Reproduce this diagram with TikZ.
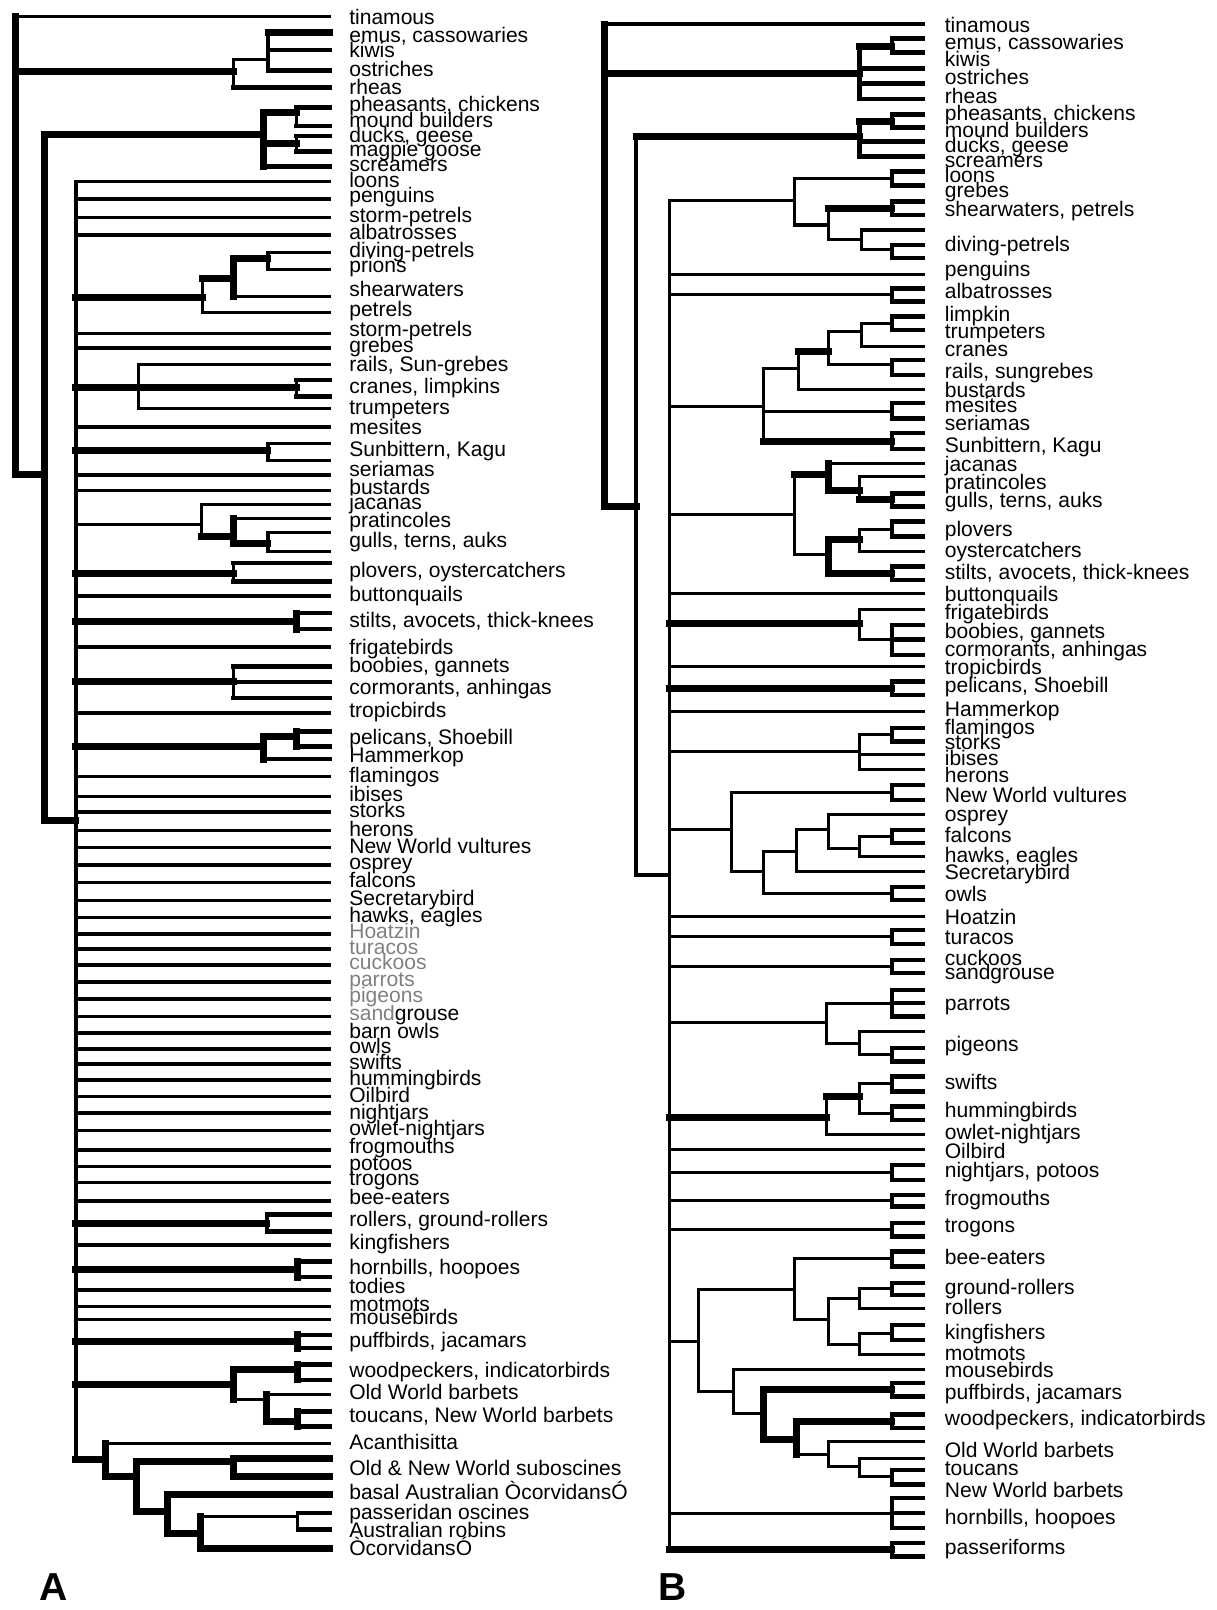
\documentclass[tikz,border=0pt]{standalone}
\usepackage{fontspec}
\setmainfont{Liberation Sans}
\newcommand{\trH}[4][thn]{\draw[#1] (#2,#4) -- (#3,#4);}
\newcommand{\trV}[4][thn]{\draw[#1] (#2,#3) -- (#2,#4);}
\newcommand{\trF}[2]{\draw[thm] (899,#1) -- (868.5,#1) -- (868.5,#2) -- (899,#2);}
\newcommand{\trFF}[3]{\draw[thm] (899,#1) -- (868.5,#1) -- (868.5,#3) -- (899,#3) (868.5,#2) -- (899,#2);}
\newcommand{\trL}[5][]{\node[lbl,#1] (#2) at (#3,#4) {#5};}
\begin{document}
\begin{tikzpicture}[x=1pt,y=-1pt,line cap=rect,line join=miter,
  thn/.style={line width=3.0pt},
  tnp/.style={line width=3.4pt},
  med/.style={line width=3.6pt},
  thm/.style={line width=4.4pt},
  thk/.style={line width=6.8pt},
  lbl/.style={anchor=base west,inner sep=0pt,yshift=-6pt,font=\fontsize{20.5}{22}\selectfont},
  gry/.style={text=black!50},
  big/.style={inner sep=0pt,font=\bfseries\fontsize{38}{40}\selectfont}]
\useasboundingbox (0,0) rectangle (1185,1568);
% ================= TREE A =================
\trV[thk]{15}{16}{462}
\trH[thn]{15}{321}{16}
% ratites
\trH[thk]{15}{227}{70}
\trV[thn]{227}{58}{85}
\trH[thn]{227}{261}{58}
\trV[thn]{261}{31.5}{69}
\trH[thk]{261}{321}{31.5}
\trH[thm]{261}{321}{48.7}
\trH[thm]{261}{321}{68.8}
\trH[thm]{227}{321}{85}
% neognaths
\trH[thk]{15}{43}{462}
\trV[thk]{43}{131}{799}
\trH[thk]{43}{257}{131}
\trV[thk]{257}{110}{162}
\trH[thk]{257}{289}{110}
\trV[thn]{289}{104.5}{122.7}
\trH[thm]{289}{321}{104.5}
\trH[thm]{289}{321}{122.7}
\trH[thk]{257}{289}{140}
\trV[thn]{289}{132.4}{147.7}
\trH[thm]{289}{321}{132.4}
\trH[thm]{289}{321}{147.7}
\trH[thm]{257}{321}{162}
% neoaves
\trH[thk]{43}{74}{799}
\trV[med]{74}{177}{1421}
\foreach \y in {177,193.8,211.6,228.8,324.6,339,416,462.5,477.8,580.3,630.3,694.6,756.3,775.7,791,808.9,825.4,842.3,859.5,877,893.6,909.8,924.1,939.7,956.5,972.8,990,1006.2,1021.8,1036.4,1051.6,1067.9,1084.1,1101,1119.8,1136,1151.6,1169.5,1212.3,1256.1,1272.4,1285.3}
  {\draw[tnp] (74,\y) -- (321,\y);}
% procellariids
\trH[thk]{74}{197}{290}
\trV[thn]{197}{271}{304.5}
\trH[thk]{197}{227}{271}
\trV[thk]{227}{251.5}{289}
\trH[thk]{227}{261}{251.5}
\trV[thn]{261}{245.7}{262.2}
\trH[thn]{261}{321}{245.7}
\trH[thn]{261}{321}{262.2}
\trH[thn]{227}{321}{289}
\trH[thn]{197}{321}{304.5}
% cranes
\trH[thk]{74}{135}{377}
\trV[thn]{135}{355.4}{398}
\trH[thn]{135}{321}{355.4}
\trH[thn]{135}{321}{398}
\trH[thk]{135}{289}{377}
\trV[thn]{289}{370}{386}
\trH[thm]{289}{321}{370}
\trH[thm]{289}{321}{386}
% sunbittern
\trH[thk]{74}{261}{439}
\trV[thn]{261}{431.7}{448.6}
\trH[thn]{261}{321}{431.7}
\trH[thn]{261}{321}{448.6}
% jacanas
\trH[thn]{74}{196}{511}
\trV[thn]{196}{491.7}{522.6}
\trH[thn]{196}{321}{491.7}
\trH[thk]{196}{227}{522.6}
\trV[thk]{227}{504.7}{529.1}
\trH[thn]{227}{321}{504.7}
\trH[thk]{227}{261}{529.1}
\trV[thn]{261}{518.7}{537.2}
\trH[thn]{261}{321}{518.7}
\trH[thn]{261}{321}{537.2}
% plovers
\trH[thk]{74}{227}{558.3}
\trV[thn]{227}{548.5}{566.4}
\trH[thm]{227}{321}{548.5}
\trH[thm]{227}{321}{566.4}
% stilts
\trH[thk]{74}{289}{605.3}
\trV[thk]{289}{597.2}{612.8}
\trH[thm]{289}{321}{597.2}
\trH[thm]{289}{321}{612.8}
% boobies
\trH[thk]{74}{227}{664}
\trV[thn]{227}{649.2}{680}
\trH[thm]{227}{321}{649.2}
\trH[thm]{227}{321}{664}
\trH[thm]{227}{321}{680}
% pelicans
\trH[thk]{74}{257}{727}
\trV[thk]{257}{717.3}{739.4}
\trH[thk]{257}{289}{717.3}
\trV[thk]{289}{712.4}{727}
\trH[thm]{289}{321}{712.4}
\trH[thm]{289}{321}{727}
\trH[thm]{257}{321}{739.4}
% rollers
\trH[thk]{74}{260}{1191.2}
\trV[thn]{260}{1183}{1199.3}
\trH[thm]{260}{321}{1183}
\trH[thm]{260}{321}{1199.3}
% hornbills
\trH[thk]{74}{290}{1236.7}
\trV[thk]{290}{1228.5}{1243.8}
\trH[thm]{290}{321}{1228.5}
\trH[thm]{290}{321}{1243.8}
% puffbirds
\trH[thk]{74}{290}{1306.4}
\trV[thk]{290}{1300}{1313}
\trH[thm]{290}{321}{1300}
\trH[thm]{290}{321}{1313}
% woodpeckers
\trH[thk]{74}{227}{1348.6}
\trV[thk]{227}{1334}{1363}
\trH[thk]{227}{290}{1334}
\trV[thk]{290}{1329}{1343.8}
\trH[thm]{290}{321}{1329}
\trH[thm]{290}{321}{1343.8}
\trH[thn]{227}{260}{1363}
\trV[thk]{260}{1358.4}{1384.3}
\trH[thn]{260}{321}{1358.4}
\trH[thk]{260}{290}{1384.3}
\trV[thk]{290}{1374.6}{1389.2}
\trH[thm]{290}{321}{1374.6}
\trH[thm]{290}{321}{1389.2}
% passerines
\trH[thk]{74}{103}{1421}
\trV[thk]{103}{1405.4}{1437.9}
\trH[thn]{103}{321}{1405.4}
\trH[thk]{103}{133}{1437.9}
\trV[thk]{133}{1423.3}{1472}
\trH[thk]{133}{227}{1423.3}
\trV[thk]{227}{1420}{1437.9}
\trH[thk]{227}{321}{1420}
\trH[thk]{227}{321}{1437.9}
\trH[thk]{133}{163}{1472}
\trV[thk]{163}{1455.7}{1493}
\trH[thk]{163}{321}{1455.7}
\trH[thk]{163}{195}{1493}
\trV[thk]{195}{1477}{1507.7}
\trH[thn]{195}{290}{1477}
\trV[thn]{290}{1473.6}{1489.8}
\trH[thm]{290}{321}{1473.6}
\trH[thm]{290}{321}{1489.8}
\trH[thk]{195}{321}{1507.7}
% ================= TREE B =================
\trV[thk]{589}{23.4}{493}
\trH[thn]{589}{899}{23.4}
\trH[thk]{589}{837}{71.4}
\trV[thm]{837}{45.4}{96.4}
\trH[thk]{837}{868.5}{45.4}
\trF{37.3}{51.3}
\trH[thm]{837}{899}{66.5}
\trH[thm]{837}{899}{81.1}
\trH[thm]{837}{899}{96.4}
\trH[thk]{589}{619.5}{493}
\trV[med]{619.5}{133}{852}
\trH[thk]{619.5}{837}{133}
\trV[thm]{837}{118.5}{152.5}
\trH[thk]{837}{868.5}{118.5}
\trF{111.3}{124.3}
\trH[thm]{837}{899}{137.9}
\trH[thm]{837}{899}{152.5}
\trH[med]{619.5}{652}{852}
\trV[med]{652}{195.7}{1509.3}
% waterbirds
\trH[thn]{652}{774}{195.7}
\trV[thn]{774}{173.6}{219.1}
\trH[thn]{774}{868.5}{173.6}
\trF{167.2}{180.8}
\trH[thn]{774}{806.6}{219.1}
\trV[thn]{806.6}{202.9}{233}
\trH[thk]{806.6}{868.5}{202.9}
\trF{196.4}{209.3}
\trH[thn]{806.6}{839}{233}
\trV[thn]{839}{224}{243.4}
\trH[thn]{839}{899}{224}
\trH[thn]{839}{868.5}{243.4}
\trF{238.6}{251.5}
% single / forks off neoaves
\foreach \y in {267.1,578.4,649.2,693,892.6,1119.8}
  {\draw[thn] (652,\y) -- (899,\y);}
\foreach \y in {287,912.1,941.3,1141.7,1169.3,1197.7,1473.6}
  {\draw[thn] (652,\y) -- (868.5,\y);}
\trF{280.8}{293.7}
\trF{905.6}{919.2}
\trF{934.8}{947.8}
\trF{1134.4}{1149}
\trF{1163.6}{1175}
\trF{1191.2}{1204.2}
\trFF{1459}{1473.6}{1488.2}
\trH[thk]{652}{868.5}{670.2}
\trF{663.8}{676.7}
\trH[thk]{652}{868.5}{1509.3}
\trF{1502.8}{1515.8}
% gruiformes
\trH[thn]{652}{743.3}{395.5}
\trV[thn]{743.3}{358.6}{429.7}
\trH[thn]{743.3}{777.4}{358.6}
\trV[thn]{777.4}{342.4}{379.1}
\trH[thk]{777.4}{806.6}{342.4}
\trV[thn]{806.6}{322.9}{355.4}
\trH[thn]{806.6}{839}{322.9}
\trV[thn]{839}{314.8}{337.6}
\trH[thn]{839}{868.5}{314.8}
\trF{308.3}{321.3}
\trH[thn]{839}{899}{337.6}
\trH[thn]{806.6}{868.5}{355.4}
\trF{350.5}{365.1}
\trH[thn]{777.4}{899}{379.1}
\trH[thn]{743.3}{868.5}{400.5}
\trF{392.7}{407.4}
\trH[thk]{743.3}{868.5}{429.7}
\trF{421.9}{437.5}
% charadriiformes
\trH[thn]{652}{774}{501.5}
\trV[thn]{774}{462.5}{540.4}
\trH[thk]{774}{806.6}{462.5}
\trV[thk]{806.6}{451.2}{478}
\trH[thn]{806.6}{899}{451.2}
\trH[thk]{806.6}{837.4}{478}
\trV[thn]{837.4}{464.2}{486.9}
\trH[thn]{837.4}{899}{464.2}
\trH[thk]{837.4}{868.5}{486.9}
\trF{480.4}{493.4}
\trH[thn]{774}{806.6}{540.4}
\trV[thk]{806.6}{525.8}{558.3}
\trH[thk]{806.6}{837.4}{525.8}
\trV[thn]{837.4}{516.1}{537.2}
\trH[thn]{837.4}{868.5}{516.1}
\trF{508}{522.6}
\trH[thn]{837.4}{899}{537.2}
\trH[thk]{806.6}{868.5}{558.3}
\trF{551.8}{564.8}
% frigatebirds, boobies
\trH[thk]{652}{837.4}{607.6}
\trV[thn]{837.4}{594}{623}
\trH[thn]{837.4}{899}{594}
\trH[thn]{837.4}{868.5}{623}
\trFF{608.6}{623}{637.8}
% flamingos
\trH[thn]{652}{837.4}{731.9}
\trV[thn]{837.4}{715.7}{749.8}
\trH[thn]{837.4}{868.5}{715.7}
\trF{709.2}{722.2}
\trH[thn]{837.4}{899}{735.2}
\trH[thn]{837.4}{899}{749.8}
% raptors
\trH[thn]{652}{712.4}{808.2}
\trV[thn]{712.4}{771.7}{848.8}
\trH[thn]{712.4}{868.5}{771.7}
\trF{764.4}{779}
\trH[thn]{712.4}{743.3}{848.8}
\trV[thn]{743.3}{829.3}{869.9}
\trH[thn]{743.3}{775.7}{829.3}
\trV[thn]{775.7}{808.2}{848.8}
\trH[thn]{775.7}{806.6}{808.2}
\trV[thn]{806.6}{793.6}{826}
\trH[thn]{806.6}{899}{793.6}
\trH[thn]{806.6}{837.4}{826}
\trV[thn]{837.4}{814.7}{834.2}
\trH[thn]{837.4}{868.5}{814.7}
\trF{808.2}{821.2}
\trH[thn]{837.4}{899}{834.2}
\trH[thn]{775.7}{899}{848.8}
\trH[thn]{743.3}{868.5}{869.9}
\trF{864}{876.4}
% parrots, pigeons
\trH[thn]{652}{805}{995.8}
\trV[thn]{805}{977}{1016}
\trH[thn]{805}{868.5}{977}
\trFF{964}{977}{990}
\trH[thn]{805}{837.4}{1016}
\trV[thn]{837.4}{1004.6}{1027.3}
\trH[thn]{837.4}{899}{1004.6}
\trH[thn]{837.4}{868.5}{1027.3}
\trF{1020.8}{1033.8}
% swifts
\trH[thk]{652}{805}{1088}
\trV[thn]{805}{1067.9}{1105.2}
\trH[thk]{805}{837.4}{1067.9}
\trV[thn]{837.4}{1054.9}{1084.1}
\trH[thn]{837.4}{868.5}{1054.9}
\trF{1048.4}{1063}
\trH[thn]{837.4}{868.5}{1084.1}
\trF{1077.6}{1090.6}
\trH[thn]{805}{899}{1105.2}
% coraciiformes / piciformes
\trH[thn]{652}{680}{1306.4}
\trV[thn]{680}{1256.1}{1355.1}
\trH[thn]{680}{774.1}{1256.1}
\trV[thn]{774.1}{1225.3}{1285.3}
\trH[thn]{774.1}{868.5}{1225.3}
\trF{1218.8}{1233.4}
\trH[thn]{774.1}{806.6}{1285.3}
\trV[thn]{806.6}{1264.3}{1309.7}
\trH[thn]{806.6}{837.4}{1264.3}
\trV[thn]{837.4}{1254.5}{1274}
\trH[thn]{837.4}{868.5}{1254.5}
\trF{1249.6}{1261}
\trH[thn]{837.4}{899}{1274}
\trH[thn]{806.6}{837.4}{1309.7}
\trV[thn]{837.4}{1298.3}{1319.4}
\trH[thn]{837.4}{868.5}{1298.3}
\trF{1290.2}{1304.8}
\trH[thn]{837.4}{899}{1319.4}
\trH[thn]{680}{714}{1355.1}
\trV[thn]{714}{1334}{1376.2}
\trH[thn]{714}{899}{1334}
\trH[thn]{714}{743.3}{1376.2}
\trV[thk]{743.3}{1353.5}{1402.2}
\trH[thk]{743.3}{868.5}{1353.5}
\trF{1347}{1360}
\trH[thk]{743.3}{775.7}{1402.2}
\trV[thk]{775.7}{1384.3}{1416.8}
\trH[thk]{775.7}{868.5}{1384.3}
\trF{1377.8}{1390.8}
\trH[thn]{775.7}{806.6}{1416.8}
\trV[thn]{806.6}{1403.8}{1428.2}
\trH[thn]{806.6}{899}{1403.8}
\trH[thn]{806.6}{837.4}{1428.2}
\trV[thn]{837.4}{1420}{1437.9}
\trH[thn]{837.4}{899}{1420}
\trH[thn]{837.4}{868.5}{1437.9}
\trF{1431.4}{1446}
% ================= LABELS A =================
\trL{a01}{340}{17.9}{tinamous}
\trL{a02}{340}{35.7}{emus, cassowaries}
\trL{a03}{340}{50.3}{kiwis}
\trL{a04}{340}{68.2}{ostriches}
\trL{a05}{340}{86}{rheas}
\trL{a06}{340}{102.2}{pheasants, chickens}
\trL{a07}{340}{118.5}{mound builders}
\trL{a08}{340}{133}{ducks, geese}
\trL{a09}{340}{146}{magpie goose}
\trL{a10}{340}{160.7}{screamers}
\trL{a11}{340}{176.9}{loons}
\trL{a12}{340}{191.5}{penguins}
\trL{a13}{340}{211}{storm-petrels}
\trL{a14}{340}{227.2}{albatrosses}
\trL{a15}{340}{245}{diving-petrels}
\trL{a16}{340}{259.7}{prions}
\trL{a17}{340}{282.4}{shearwaters}
\trL{a18}{340}{302.5}{petrels}
\trL{a19}{340}{321.3}{storm-petrels}
\trL{a20}{340}{337.6}{grebes}
\trL{a21}{340}{356}{rails, Sun-grebes}
\trL{a22}{340}{377.2}{cranes, limpkins}
\trL{a23}{340}{397.6}{trumpeters}
\trL{a24}{340}{417.1}{mesites}
\trL{a25}{340}{438.2}{Sunbittern, Kagu}
\trL{a26}{340}{458.3}{seriamas}
\trL{a27}{340}{475.5}{bustards}
\trL{a28}{340}{490.1}{jacanas}
\trL{a29}{340}{508}{pratincoles}
\trL{a30}{340}{527.4}{gulls, terns, auks}
\trL{a31}{340}{556.6}{plovers, oystercatchers}
\trL{a32}{340}{579.4}{buttonquails}
\trL{a33}{340}{605.3}{stilts, avocets, thick-knees}
\trL{a34}{340}{631.3}{frigatebirds}
\trL{a35}{340}{649.2}{boobies, gannets}
\trL{a36}{340}{670.2}{cormorants, anhingas}
\trL{a37}{340}{693}{tropicbirds}
\trL{a38}{340}{719}{pelicans, Shoebill}
\trL{a39}{340}{736.8}{Hammerkop}
\trL{a40}{340}{756.3}{flamingos}
\trL{a41}{340}{774.1}{ibises}
\trL{a42}{340}{790}{storks}
\trL{a43}{340}{808.2}{herons}
\trL{a44}{340}{825.1}{New World vultures}
\trL{a45}{340}{840.7}{osprey}
\trL{a46}{340}{858.5}{falcons}
\trL{a47}{340}{875.7}{Secretarybird}
\trL{a48}{340}{892.6}{hawks, eagles}
\trL[gry]{a49}{340}{908.2}{Hoatzin}
\trL[gry]{a50}{340}{923.4}{turacos}
\trL[gry]{a51}{340}{938}{cuckoos}
\trL[gry]{a52}{340}{954.3}{parrots}
\trL[gry]{a53}{340}{970.5}{pigeons}
\trL{a54}{340}{988.3}{\textcolor{black!50}{sand}grouse}
\trL{a55}{340}{1005.2}{barn owls}
\trL{a56}{340}{1019.8}{owls}
\trL{a57}{340}{1035.4}{swifts}
\trL{a58}{340}{1051.6}{hummingbirds}
\trL{a59}{340}{1067.9}{Oilbird}
\trL{a60}{340}{1084.1}{nightjars}
\trL{a61}{340}{1100.3}{owlet-nightjars}
\trL{a62}{340}{1117.2}{frogmouths}
\trL{a63}{340}{1134.4}{potoos}
\trL{a64}{340}{1149}{trogons}
\trL{a65}{340}{1166.9}{bee-eaters}
\trL{a66}{340}{1188.6}{rollers, ground-rollers}
\trL{a67}{340}{1210.7}{kingfishers}
\trL{a68}{340}{1235}{hornbills, hoopoes}
\trL{a69}{340}{1253.5}{todies}
\trL{a70}{340}{1271.7}{motmots}
\trL{a71}{340}{1283.7}{mousebirds}
\trL{a72}{340}{1306.4}{puffbirds, jacamars}
\trL{a73}{340}{1335.6}{woodpeckers, indicatorbirds}
\trL{a74}{340}{1357.4}{Old World barbets}
\trL{a75}{340}{1379.5}{toucans, New World barbets}
\trL{a76}{340}{1405.4}{Acanthisitta}
\trL{a77}{340}{1431.4}{Old \& New World suboscines}
\trL{a78}{340}{1454.1}{basal Australian ÒcorvidansÓ}
\trL{a79}{340}{1474.3}{passeridan oscines}
\trL{a80}{340}{1491.5}{Australian robins}
\trL{a81}{340}{1509.3}{ÒcorvidansÓ}
% ================= LABELS B =================
\trL{b01}{920}{26}{tinamous}
\trL{b02}{920}{42.2}{emus, cassowaries}
\trL{b03}{920}{58.4}{kiwis}
\trL{b04}{920}{76.3}{ostriches}
\trL{b05}{920}{94.8}{rheas}
\trL{b06}{920}{111.3}{pheasants, chickens}
\trL{b07}{920}{127.6}{mound builders}
\trL{b08}{920}{142.8}{ducks, geese}
\trL{b09}{920}{157.4}{screamers}
\trL{b10}{920}{172}{loons}
\trL{b11}{920}{186.6}{grebes}
\trL{b12}{920}{204.5}{shearwaters, petrels}
\trL{b13}{920}{238.6}{diving-petrels}
\trL{b14}{920}{262.9}{penguins}
\trL{b15}{920}{285}{albatrosses}
\trL{b16}{920}{306.7}{limpkin}
\trL{b17}{920}{324}{trumpeters}
\trL{b18}{920}{340.8}{cranes}
\trL{b19}{920}{362.9}{rails, sungrebes}
\trL{b20}{920}{381.4}{bustards}
\trL{b21}{920}{396}{mesites}
\trL{b22}{920}{412.9}{seriamas}
\trL{b23}{920}{435}{Sunbittern, Kagu}
\trL{b24}{920}{452.8}{jacanas}
\trL{b25}{920}{470.6}{pratincoles}
\trL{b26}{920}{488.5}{gulls, terns, auks}
\trL{b27}{920}{516.1}{plovers}
\trL{b28}{920}{537.2}{oystercatchers}
\trL{b29}{920}{558.3}{stilts, avocets, thick-knees}
\trL{b30}{920}{579.4}{buttonquails}
\trL{b31}{920}{597.2}{frigatebirds}
\trL{b32}{920}{615.7}{boobies, gannets}
\trL{b33}{920}{632.9}{cormorants, anhingas}
\trL{b34}{920}{650.8}{tropicbirds}
\trL{b35}{920}{668.6}{pelicans, Shoebill}
\trL{b36}{920}{691.4}{Hammerkop}
\trL{b37}{920}{709.2}{flamingos}
\trL{b38}{920}{723.8}{storks}
\trL{b39}{920}{739.4}{ibises}
\trL{b40}{920}{756.3}{herons}
\trL{b41}{920}{775.1}{New World vultures}
\trL{b42}{920}{793.6}{osprey}
\trL{b43}{920}{814.7}{falcons}
\trL{b44}{920}{834.2}{hawks, eagles}
\trL{b45}{920}{851}{Secretarybird}
\trL{b46}{920}{871.5}{owls}
\trL{b47}{920}{894.2}{Hoatzin}
\trL{b48}{920}{913.7}{turacos}
\trL{b49}{920}{934.1}{cuckoos}
\trL{b50}{920}{947.8}{sandgrouse}
\trL{b51}{920}{978.6}{parrots}
\trL{b52}{920}{1017.6}{pigeons}
\trL{b53}{920}{1054.9}{swifts}
\trL{b54}{920}{1082.5}{hummingbirds}
\trL{b55}{920}{1103.6}{owlet-nightjars}
\trL{b56}{920}{1122.4}{Oilbird}
\trL{b57}{920}{1140.9}{nightjars, potoos}
\trL{b58}{920}{1168.5}{frogmouths}
\trL{b59}{920}{1194.5}{trogons}
\trL{b60}{920}{1225.3}{bee-eaters}
\trL{b61}{920}{1254.5}{ground-rollers}
\trL{b62}{920}{1274}{rollers}
\trL{b63}{920}{1298.3}{kingfishers}
\trL{b64}{920}{1319.4}{motmots}
\trL{b65}{920}{1335.6}{mousebirds}
\trL{b66}{920}{1356.7}{puffbirds, jacamars}
\trL{b67}{920}{1382.7}{woodpeckers, indicatorbirds}
\trL{b68}{920}{1413.5}{Old World barbets}
\trL{b69}{920}{1431.4}{toucans}
\trL{b70}{920}{1452.5}{New World barbets}
\trL{b71}{920}{1478.5}{hornbills, hoopoes}
\trL{b72}{920}{1507.7}{passeriforms}
% panel letters
\node[big] (pA) at (52,1546) {A};
\node[big] (pB) at (655,1546) {B};
\end{tikzpicture}
\end{document}
